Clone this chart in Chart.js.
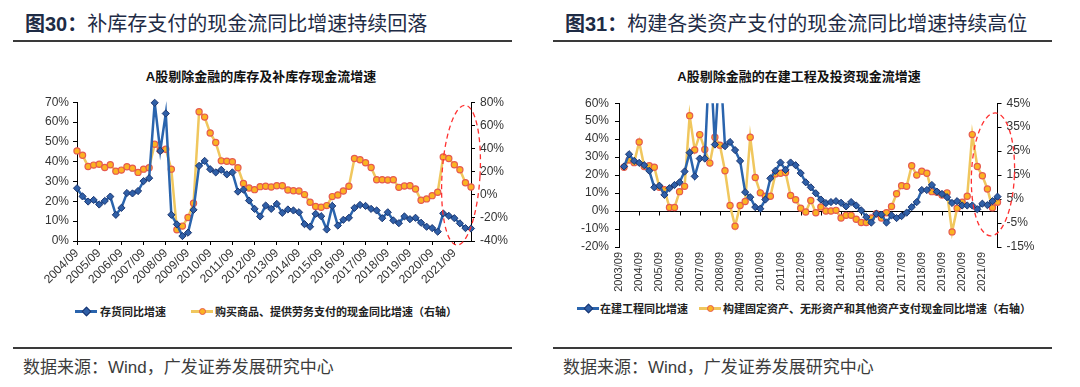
<!DOCTYPE html>
<html>
<head>
<meta charset="utf-8">
<script src="https://cdn.jsdelivr.net/npm/chart.js@4.4.1/dist/chart.umd.min.js"></script>
<style>
  body { margin: 0; width: 1080px; height: 387px; background: #fff; position: relative; overflow: hidden;
         font-family: "Noto Sans CJK SC", "Liberation Sans", sans-serif; }
  .abs { position: absolute; white-space: nowrap; }
  .ttl { font-size: 20px; line-height: 20px; color: #1e2b45; top: 13px; }
  .ttl b { font-weight: 700; }
  .ttl .num { font-family: "Liberation Sans", Arial, sans-serif; font-weight: 700; }
  .rule { height: 1.5px; background: #3a3a3a; width: 499px; }
  .ctitle { font-size: 13px; font-weight: 700; color: #111; text-align: center; top: 68px; line-height: 16px; }
  .ctitle .a { font-family: "Liberation Sans", Arial, sans-serif; }
  .leg { font-size: 11px; font-weight: 700; color: #222; line-height: 14px; }
  .sw { width: 22px; height: 10px; }
  .sw::before { content: ""; position: absolute; left: 0; right: 0; top: 4px; height: 2.5px; background: var(--c); }
  .sw i { position: absolute; left: 8px; top: 1.5px; width: 5px; height: 5px; box-sizing: content-box; }
  .sw.blue i { background: #2f5fa7; border: 1px solid #1b3670; transform: rotate(45deg); }
  .sw.gold i { background: #fbb321; border: 1.3px solid #e65a4f; border-radius: 50%; }
  .src { font-size: 17px; color: #3c3c3c; top: 356px; line-height: 20px; }
  .src .w { font-family: "Liberation Sans", Arial, sans-serif; }
  .box { position: absolute; top: 90px; width: 540px; height: 210px; }
</style>
</head>
<body>

<div class="abs ttl" style="left:25px"><b>图<span class="num">30</span>：</b>补库存支付的现金流同比增速持续回落</div>
<div class="abs rule" style="left:13px; top:40px"></div>
<div class="abs ctitle" style="left:0; width:522px"><span class="a">A</span>股剔除金融的库存及补库存现金流增速</div>
<div class="box" style="left:0"><canvas id="invChart" width="540" height="210"></canvas></div>
<div class="abs sw blue" style="left:75px; top:306px; --c:#2a64ad"><i></i></div>
<div class="abs leg" style="left:100px; top:304px">存货同比增速</div>
<div class="abs sw gold" style="left:191px; top:306px; --c:#f0c75e"><i></i></div>
<div class="abs leg" style="left:215px; top:304px">购买商品、提供劳务支付的现金同比增速（右轴）</div>
<div class="abs rule" style="left:13px; top:347px"></div>
<div class="abs src" style="left:23px">数据来源：<span class="w">Wind</span>，广发证券发展研究中心</div>

<div class="abs ttl" style="left:565px"><b>图<span class="num">31</span>：</b>构建各类资产支付的现金流同比增速持续高位</div>
<div class="abs rule" style="left:553px; top:40px"></div>
<div class="abs ctitle" style="left:540px; width:518px"><span class="a">A</span>股剔除金融的在建工程及投资现金流增速</div>
<div class="box" style="left:540px"><canvas id="capexChart" width="540" height="210"></canvas></div>
<div class="abs sw blue" style="left:577px; top:303px; --c:#2a64ad"><i></i></div>
<div class="abs leg" style="left:600px; top:301px">在建工程同比增速</div>
<div class="abs sw gold" style="left:699px; top:303px; --c:#f0c75e"><i></i></div>
<div class="abs leg" style="left:723px; top:301px">构建固定资产、无形资产和其他资产支付现金同比增速（右轴）</div>
<div class="abs rule" style="left:553px; top:347px"></div>
<div class="abs src" style="left:563px">数据来源：<span class="w">Wind</span>，广发证券发展研究中心</div>

<script>
// quarterly category labels, e.g. 2004/09 ... 2022/06
function quarters(from, to) {
    const out = [];
    let [y, m] = from.split('/').map(Number);
    const [ey, em] = to.split('/').map(Number);
    while (y < ey || (y === ey && m <= em)) {
        out.push(y + '/' + String(m).padStart(2, '0'));
        m += 3;
        if (m > 12) { m = 3; y++; }
    }
    return out;
}

// Fig 30: 2004/09 - 2022/06
const invLabels = quarters('2004/09', '2022/06');
const inventoryYoY = [26.6, 22.5, 19.9, 20.7, 18.4, 20.2, 22.4, 13.2, 16.7, 24.2,
    24.0, 25.2, 30.2, 31.7, 69.7, 45.4, 64.3, 13.2, 8.4, 2.5,
    4.2, 15.7, 37.9, 40.4, 36.2, 34.6, 35.9, 33.6, 34.6, 24.9,
    25.9, 20.4, 16.2, 12.4, 17.9, 16.2, 18.7, 14.2, 15.9, 15.4,
    14.5, 8.5, 7.2, 13.7, 12.5, 5.8, 17.7, 7.8, 10.7, 11.7,
    16.7, 18.2, 17.7, 16.2, 15.4, 11.5, 14.5, 10.4, 9.0, 12.4,
    11.0, 11.7, 9.2, 7.2, 6.5, 4.7, 13.9, 12.7, 11.5, 8.9,
    6.5, 6.3];
const purchaseCashYoY = [37.9, 34.2, 24.4, 25.6, 26.4, 23.6, 25.9, 20.4, 21.3, 24.2,
    23.0, 19.3, 22.1, 23.3, 43.6, 38.5, 39.3, 22.1, -30.3, -27.1,
    -19.7, -7.4, 71.7, 67.1, 53.4, 45.1, 29.3, 29.0, 28.5, 23.3,
    9.8, 5.8, 4.4, 7.0, 7.3, 6.7, 7.8, 7.8, 4.1, 3.5,
    3.2, 0.1, -6.5, -10.2, -10.8, -9.4, -1.6, -0.2, 3.2, 7.3,
    31.3, 30.2, 27.6, 23.6, 13.0, 13.0, 12.7, 13.0, 6.4, 7.5,
    7.8, 5.0, -4.8, -3.6, -0.8, 2.1, 32.7, 31.3, 25.9, 21.6,
    10.4, 6.7];

// Fig 31: 2003/09 - 2022/06 (first quarter has no value)
const capexLabels = quarters('2003/09', '2022/06');
const cipYoY = [null, 24.8, 31.6, 27.9, 26.8, 25.5, 22.4, 13.2, 14.1, 9.0, 12.7,
    14.5, 16.0, 22.0, 32.5, 19.3, 29.2, 29.2, 90, 37.0, 85,
    36.1, 38.4, 33.9, 27.9, 10.5, 7.7, 2.2, 1.3, 6.4, 18.2,
    22.4, 27.0, 22.9, 27.0, 25.5, 21.1, 16.0, 13.2, 9.9, 6.4,
    4.4, 5.0, 5.5, 4.6, 2.6, 5.0, 3.1, 0.4, -3.3, -6.4,
    -1.5, -2.0, -6.4, -2.4, -3.9, -2.8, -0.9, 2.2, 5.0, 11.7,
    11.7, 14.5, 10.8, 9.5, 7.7, 4.5, 5.5, 3.1, 3.1, 3.1,
    1.0, 4.1, 3.3, 5.5, 8.0];
const assetCashYoY = [null, 18.3, 21.3, 20.2, 28.8, 18.6, 18.9, 18.3, 9.9, 8.9, 1.5,
    1.5, 8.1, 10.3, 39.8, 25.5, 31.9, 25.7, 20.0, 30.8, 27.5,
    16.8, 2.3, -6.3, 2.3, 4.0, 30.8, 14.0, 7.6, 6.2, 6.2,
    15.5, 15.8, 16.1, 6.5, 4.7, 1.2, -0.4, 4.4, -0.7, 1.7,
    0, 0, 0.3, -2.9, -1.8, -1.8, -3.4, -4.8, -4.8, -2.9,
    -1.1, -2.9, -0.7, 1.9, 7.2, 10.6, 10.3, 18.9, 15.0, 16.6,
    15.8, 8.1, 7.8, 6.7, 7.6, -8.7, 1.2, 3.7, 6.2, 31.9,
    18.6, 14.7, 9.2, 1.4, 3.7];

Chart.defaults.font.family = '"Liberation Sans", Arial, sans-serif';
Chart.defaults.font.size = 12;
Chart.defaults.color = '#333';

const blueStyle = {
    borderColor: '#2a64ad', borderWidth: 2.5, pointStyle: 'rectRot', pointRadius: 3.6,
    pointBackgroundColor: '#2f5fa7', pointBorderColor: '#1b3670', pointBorderWidth: 1, order: 1
};
const goldStyle = {
    borderColor: '#f0c75e', borderWidth: 2.5, pointStyle: 'circle', pointRadius: 3.1,
    pointBackgroundColor: '#fbb321', pointBorderColor: '#e65a4f', pointBorderWidth: 1.2, order: 2
};

// dashed red ellipse, anchored on the chart's own scales
const ring = {
    id: 'ring',
    afterDraw(chart, args, o) {
        const ctx = chart.ctx;
        const cx = chart.scales.x.getPixelForValue(o.at[0]);
        const cy = chart.scales[o.axis].getPixelForValue(o.at[1]);
        ctx.save();
        ctx.strokeStyle = '#ff3030';
        ctx.lineWidth = 1.3;
        ctx.setLineDash([5, 3.5]);
        ctx.beginPath();
        ctx.ellipse(cx, cy, o.r[0], o.r[1], o.tilt, 0, Math.PI * 2);
        ctx.stroke();
        ctx.restore();
    }
};

// category axis line at 0% with yearly tick marks (fig 31)
const zeroAxis = {
    id: 'zeroAxis',
    beforeDatasetsDraw(chart) {
        const { ctx, chartArea, scales: { x, y } } = chart;
        const y0 = Math.round(y.getPixelForValue(0)) + 0.5;
        ctx.save();
        ctx.strokeStyle = '#000';
        ctx.lineWidth = 1;
        ctx.beginPath();
        ctx.moveTo(chartArea.left, y0);
        ctx.lineTo(chartArea.right, y0);
        capexLabels.forEach((l, i) => {
            if (i % 4 === 0) {
                const px = Math.round(x.getPixelForValue(i)) + 0.5;
                ctx.moveTo(px, y0);
                ctx.lineTo(px, y0 + 4);
            }
        });
        ctx.stroke();
        ctx.restore();
    }
};

const axisGrid = { display: true, drawOnChartArea: false, drawTicks: true, tickLength: 4, color: '#000' };
const pct = v => v + '%';

new Chart(document.getElementById('invChart'), {
    type: 'line',
    data: {
        labels: invLabels,
        datasets: [
            { label: '存货同比增速', data: inventoryYoY, yAxisID: 'y', clip: false, ...blueStyle },
            { label: '购买商品、提供劳务支付的现金同比增速（右轴）', data: purchaseCashYoY, yAxisID: 'y1', clip: false, ...goldStyle }
        ]
    },
    options: {
        responsive: false,
        animation: false,
        devicePixelRatio: 1,
        layout: { padding: { top: 11 } },
        plugins: {
            legend: { display: false },
            tooltip: { enabled: false },
            ring: { at: [69.2, 33.2], axis: 'y', r: [19, 70], tilt: 0.06 }
        },
        scales: {
            x: {
                offset: false,
                grid: axisGrid,
                border: { display: true, color: '#000' },
                ticks: {
                    autoSkip: false, minRotation: 45, maxRotation: 45, padding: 1,
                    callback: (v, i) => (i % 4 === 0 ? invLabels[i] : null)
                },
                afterFit: s => { s.height = 59; }
            },
            y: {
                position: 'left', min: 0, max: 70,
                ticks: { stepSize: 10, callback: pct, padding: 4 },
                grid: axisGrid,
                border: { display: true, color: '#000' },
                afterFit: s => { s.width = 77; }
            },
            y1: {
                position: 'right', min: -40, max: 80,
                ticks: { stepSize: 20, callback: pct, padding: 5 },
                grid: axisGrid,
                border: { display: true, color: '#000' },
                afterFit: s => { s.width = 69; }
            }
        }
    },
    plugins: [ring]
});

new Chart(document.getElementById('capexChart'), {
    type: 'line',
    data: {
        labels: capexLabels,
        datasets: [
            { label: '在建工程同比增速', data: cipYoY, yAxisID: 'y',
              clip: { left: 10, right: 10, top: 0, bottom: 10 }, ...blueStyle },
            { label: '构建固定资产、无形资产和其他资产支付现金同比增速（右轴）', data: assetCashYoY, yAxisID: 'y1',
              clip: false, ...goldStyle }
        ]
    },
    options: {
        responsive: false,
        animation: false,
        devicePixelRatio: 1,
        layout: { padding: { top: 12 } },
        plugins: {
            legend: { display: false },
            tooltip: { enabled: false },
            ring: { at: [74.1, 20.4], axis: 'y', r: [21.5, 61.5], tilt: 0.04 }
        },
        scales: {
            x: {
                offset: false,
                grid: { display: false, drawTicks: false },
                border: { display: false },
                ticks: {
                    autoSkip: false, minRotation: 90, maxRotation: 90, padding: 5, font: { size: 11 },
                    callback: (v, i) => (i % 4 === 0 ? capexLabels[i] : null)
                },
                afterFit: s => { s.height = 53; }
            },
            y: {
                position: 'left', min: -20, max: 60,
                ticks: { stepSize: 10, callback: pct, padding: 6 },
                grid: axisGrid,
                border: { display: true, color: '#000' },
                afterFit: s => { s.width = 79; }
            },
            y1: {
                position: 'right', min: -15, max: 45,
                ticks: { stepSize: 10, callback: pct, padding: 5 },
                grid: axisGrid,
                border: { display: true, color: '#000' },
                afterFit: s => { s.width = 82.5; }
            }
        }
    },
    plugins: [zeroAxis, ring]
});
</script>
</body>
</html>
